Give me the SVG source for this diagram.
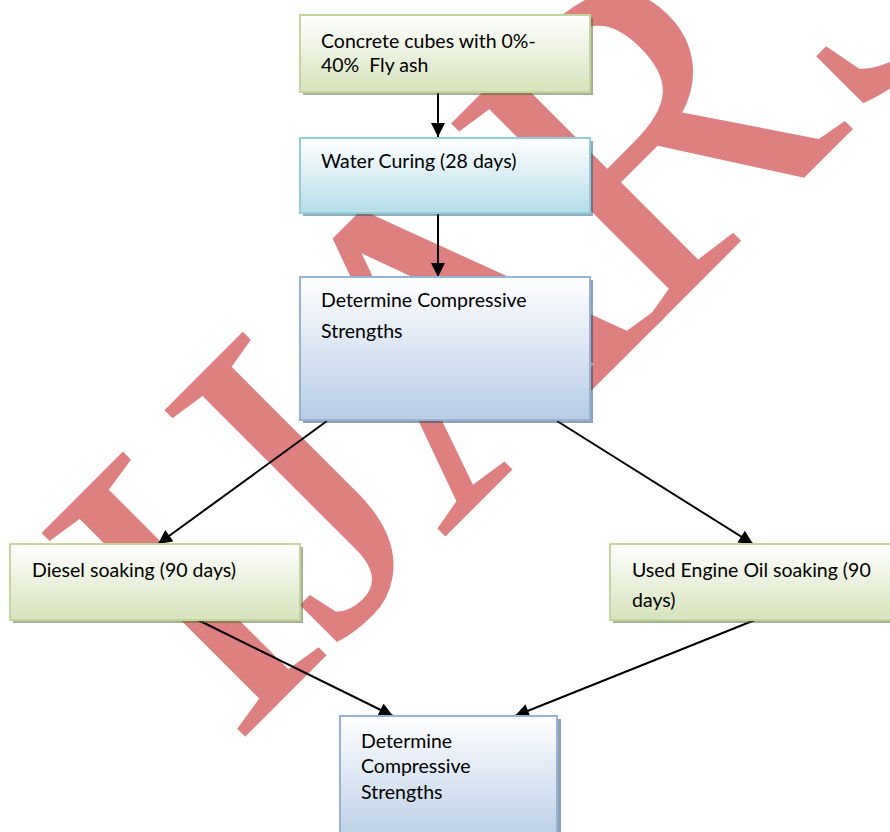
<svg xmlns="http://www.w3.org/2000/svg" width="890" height="832" viewBox="0 0 890 832">
<defs>
<linearGradient id="gGreen" x1="0" y1="0" x2="0" y2="1"><stop offset="0" stop-color="#ffffff"/><stop offset="1" stop-color="#d6e3bc"/></linearGradient>
<linearGradient id="gCyan" x1="0" y1="0" x2="0" y2="1"><stop offset="0" stop-color="#ffffff"/><stop offset="1" stop-color="#b6dde8"/></linearGradient>
<linearGradient id="gBlue" x1="0" y1="0" x2="0" y2="1"><stop offset="0" stop-color="#ffffff"/><stop offset="1" stop-color="#b8cce4"/></linearGradient>
<marker id="arr" viewBox="0 0 12 12" refX="12" refY="6" markerWidth="15" markerHeight="14" markerUnits="userSpaceOnUse" orient="auto"><path d="M0,0 L12,6 L0,12 z" fill="#000"/></marker>
<style>
.t{font-family:"Lato","Liberation Sans",sans-serif;font-size:19.5px;fill:#000;white-space:pre}
.green{fill:url(#gGreen);stroke:#c3d69b;stroke-width:2}
.cyan{fill:url(#gCyan);stroke:#92cddc;stroke-width:2}
.blue{fill:url(#gBlue);stroke:#95b3d7;stroke-width:2}
.shG{fill:#4e6128;opacity:0.5}
.shC{fill:#205867;opacity:0.5}
.shB{fill:#243f60;opacity:0.5}
.c{stroke:#000;stroke-width:2;fill:none;marker-end:url(#arr)}
.wm{font-family:"Liberation Serif",serif;font-size:440px;fill:#df8080}
</style>
</defs>
<text class="wm" transform="translate(234,748) rotate(-45)">I<tspan dx="-8">J</tspan><tspan dx="-15">A</tspan><tspan dx="-30">R</tspan><tspan dx="-5">S</tspan></text>
<g id="connectors">
<line class="c" x1="438" y1="90" x2="438" y2="137"/>
<line class="c" x1="438" y1="213" x2="438" y2="277"/>
<line class="c" x1="327" y1="421" x2="158" y2="544"/>
<line class="c" x1="557" y1="421" x2="753" y2="544"/>
<line class="c" x1="198" y1="620" x2="393" y2="716"/>
<line class="c" x1="755" y1="620" x2="515" y2="716"/>
</g>
<g id="n1">
<rect class="shG" x="303" y="18" width="290" height="77"/>
<rect class="green" x="300" y="15" width="290" height="77"/>
<text class="t" x="321" y="48">Concrete cubes with 0%-</text>
<text class="t" x="321" y="72" xml:space="preserve">40%  Fly ash</text>
</g>
<g id="n2">
<rect class="shC" x="303" y="141" width="290" height="75"/>
<rect class="cyan" x="300" y="138" width="290" height="75"/>
<text class="t" x="321" y="168">Water Curing (28 days)</text>
</g>
<g id="n3">
<rect class="shB" x="303" y="280" width="290" height="143"/>
<rect class="blue" x="300" y="277" width="290" height="143"/>
<text class="t" x="321" y="307">Determine Compressive</text>
<text class="t" x="321" y="338">Strengths</text>
</g>
<g id="n4">
<rect class="shG" x="13" y="547" width="290" height="76"/>
<rect class="green" x="10" y="544" width="290" height="76"/>
<text class="t" x="32" y="577">Diesel soaking (90 days)</text>
</g>
<g id="n5">
<rect class="shG" x="613" y="547" width="290" height="76"/>
<rect class="green" x="610" y="544" width="290" height="76"/>
<text class="t" x="632" y="577">Used Engine Oil soaking (90</text>
<text class="t" x="632" y="607">days)</text>
</g>
<g id="n6">
<rect class="shB" x="343" y="719" width="218" height="130"/>
<rect class="blue" x="340" y="716" width="217" height="130"/>
<text class="t" x="361" y="748">Determine</text>
<text class="t" x="361" y="773">Compressive</text>
<text class="t" x="361" y="799">Strengths</text>
</g>
</svg>
